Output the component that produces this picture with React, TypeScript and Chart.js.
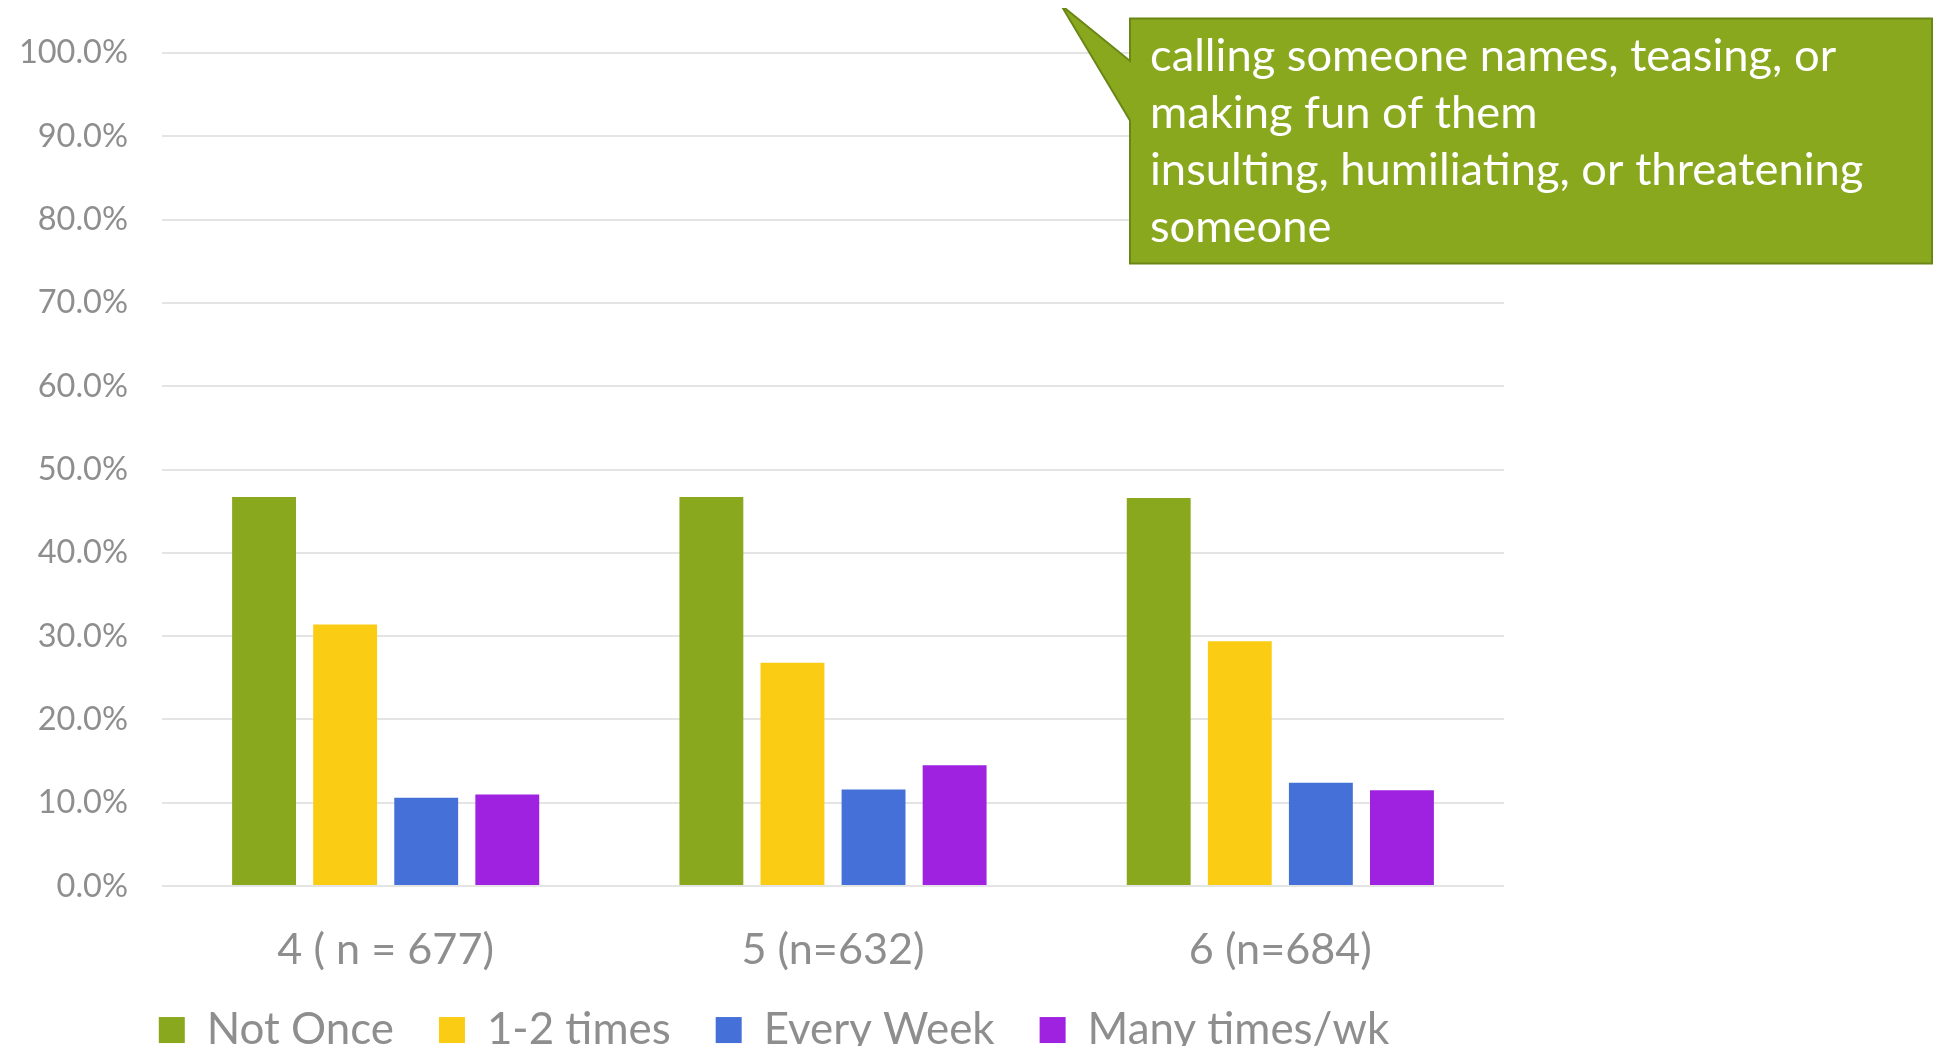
import React, { useEffect, useRef } from 'react';
import { Chart, registerables } from 'chart.js';

Chart.register(...registerables);

// ---- data ----
const categories = ['4 ( n = 677)', '5 (n=632)', '6 (n=684)'];
const seriesNames = ['Not Once', '1-2 times', 'Every Week', 'Many times/wk'];
const notOnce = [46.7, 46.7, 46.6];
const oneTwoTimes = [31.4, 26.8, 29.4];
const everyWeek = [10.6, 11.6, 12.4];
const manyTimesWk = [11.0, 14.5, 11.5];
const seriesColors = ['#8AA81E', '#FACD14', '#4470D8', '#9E22E0'];
const yMin = 0;
const yMax = 100;
const yStep = 10;
const calloutLines = [
  'calling someone names, teasing, or',
  'making fun of them',
  'insulting, humiliating, or threatening',
  'someone',
];

const FAMILY = 'Lato';
const TEXT_GRAY = '#8E8E8E';

function fitSize(text: string, width: number): number {
  const c = document.createElement('canvas').getContext('2d') as CanvasRenderingContext2D;
  c.font = `100px ${FAMILY}`;
  return Math.round(((100 * width) / c.measureText(text).width) * 10) / 10;
}

const W = 1925;
const H = 1054;

export default function App() {
  const ref = useRef<HTMLCanvasElement | null>(null);

  useEffect(() => {
    if (!ref.current) return;
    const yFont = fitSize('100.0%', 109);
    const xFont = fitSize('5 (n=632)', 183);
    const legendFont = fitSize('Many times/wk', 302);
    const calloutFont = fitSize('insulting, humiliating, or threatening', 713);

    const calloutPlugin = {
      id: 'callout',
      afterDraw(chart: any) {
        const ctx = chart.ctx as CanvasRenderingContext2D;
        const L = 1122, T = 10.5, R = 1924, B = 255.5;
        ctx.save();
        ctx.beginPath();
        ctx.moveTo(L, T);
        ctx.lineTo(R, T);
        ctx.lineTo(R, B);
        ctx.lineTo(L, B);
        ctx.lineTo(L, 112.5);
        ctx.lineTo(1053, -3);
        ctx.lineTo(L, 53);
        ctx.closePath();
        ctx.fillStyle = '#8AA81E';
        ctx.fill();
        ctx.lineWidth = 2;
        ctx.strokeStyle = '#6A8716';
        ctx.stroke();
        ctx.fillStyle = '#FFFFFF';
        ctx.font = `${calloutFont}px ${FAMILY}`;
        ctx.textAlign = 'left';
        ctx.textBaseline = 'middle';
        calloutLines.forEach((ln, i) => ctx.fillText(ln, 1142, 48 + i * 57));
        ctx.restore();
      },
    };

    const noLabelClip = (scale: any) => {
      scale._computeLabelArea = () => undefined;
    };

    const seriesData = [notOnce, oneTwoTimes, everyWeek, manyTimesWk];
    const chart = new Chart(ref.current, {
      type: 'bar',
      data: {
        labels: categories,
        datasets: seriesNames.map((name, i) => ({
          label: name,
          data: seriesData[i],
          backgroundColor: seriesColors[i],
          borderWidth: 0,
          categoryPercentage: 0.725,
          barPercentage: 0.788,
        })),
      },
      options: {
        responsive: false,
        animation: false,
        devicePixelRatio: 1,
        layout: { padding: { left: 36, right: 429, top: 45, bottom: 0 } },
        plugins: {
          tooltip: { enabled: false },
          title: { display: false },
          legend: {
            display: true,
            position: 'bottom',
            labels: {
              boxWidth: 26,
              boxHeight: 26,
              padding: 45,
              color: TEXT_GRAY,
              font: { family: FAMILY, size: legendFont },
            },
          },
        },
        scales: {
          x: {
            grid: { display: false, drawTicks: false },
            border: { display: false },
            ticks: {
              color: TEXT_GRAY,
              padding: 38,
              font: { family: FAMILY, size: xFont },
              maxRotation: 0,
            },
            afterFit: (scale: any) => {
              scale.height = 77;
              noLabelClip(scale);
            },
          },
          y: {
            min: yMin,
            max: yMax,
            grid: {
              color: '#E4E4E4',
              lineWidth: 2,
              drawTicks: true,
              tickLength: 30,
              tickColor: 'rgba(0,0,0,0)',
            },
            border: { display: false },
            ticks: {
              stepSize: yStep,
              color: TEXT_GRAY,
              padding: 4,
              font: { family: FAMILY, size: yFont },
              callback: (v: any) => Number(v).toFixed(1) + '%',
            },
            afterFit: (scale: any) => {
              scale.width = 118;
              noLabelClip(scale);
            },
          },
        },
      },
      plugins: [calloutPlugin],
    });
    return () => chart.destroy();
  }, []);

  return (
    <div style={{ width: W, height: 1046, marginBottom: -8, overflow: 'hidden' }}>
      <canvas ref={ref} width={W} height={H} style={{ display: 'block', width: W, height: H }} />
    </div>
  );
}
